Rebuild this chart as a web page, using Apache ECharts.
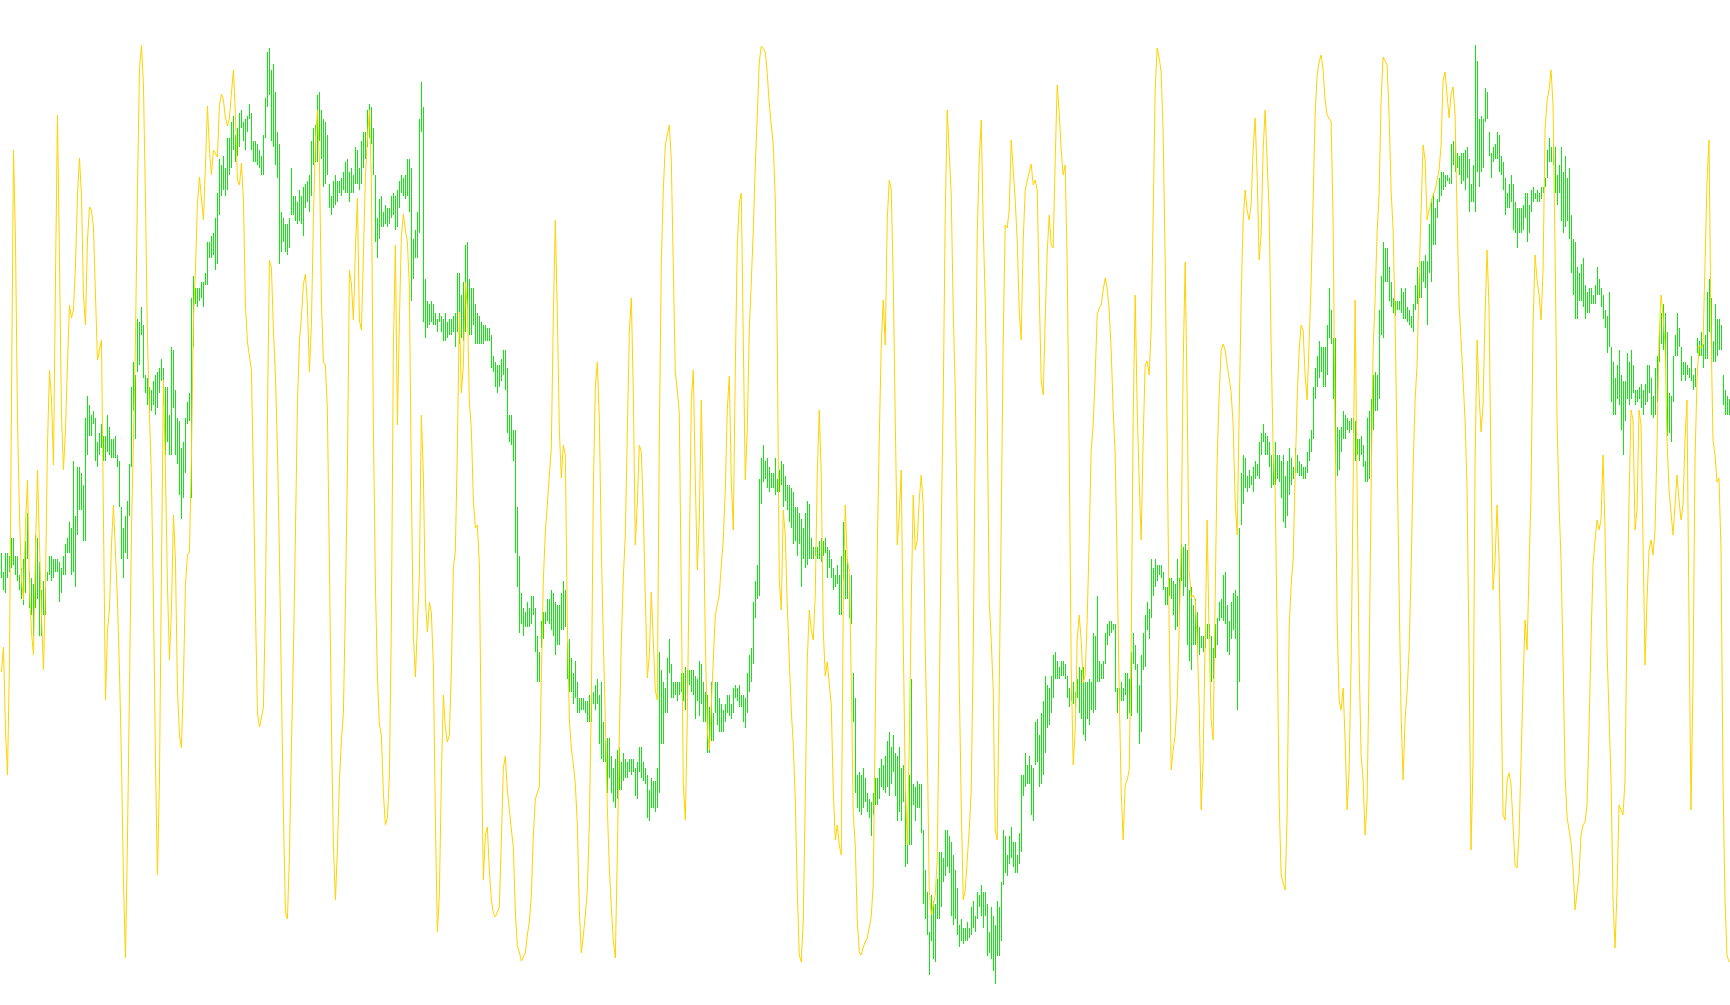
<!DOCTYPE html>
<html>
<head>
<meta charset="utf-8">
<script src="https://cdn.jsdelivr.net/npm/echarts/dist/echarts.min.js"></script>
<style>
html,body{margin:0;padding:0;background:#ffffff;overflow:hidden}
#chart{width:1730px;height:1005px}
</style>
</head>
<body>
<div id="chart"></div>
<script>
// Bar highs (price points), one per bar
const highs = [
447,428,447,447,444,462,462,444,444,425,
432,441,459,487,428,422,416,465,462,438,
410,419,413,428,444,444,441,441,441,438,
432,444,456,462,478,472,539,484,533,533,
527,515,582,604,595,585,589,582,558,567,
576,564,564,585,573,561,561,564,545,539,
493,472,484,499,536,613,638,625,681,678,
693,675,625,622,613,610,619,625,628,632,
641,632,613,613,585,653,650,610,582,579,
552,558,582,598,607,702,724,712,712,712,
718,718,727,758,758,764,767,782,807,841,
835,844,832,862,862,878,884,865,872,887,
890,878,881,884,896,887,859,859,856,850,
844,865,902,948,952,930,936,908,868,856,
788,782,776,776,782,832,804,804,798,810,
804,813,816,819,825,859,872,875,905,908,
890,881,878,865,816,804,819,825,819,819,
822,828,838,841,828,832,825,853,850,832,
859,868,868,890,896,893,872,825,782,801,
804,788,795,792,792,804,807,804,810,819,
825,822,825,841,841,832,761,770,788,881,
918,893,721,699,696,699,696,687,681,687,
684,681,687,678,681,681,684,687,727,727,
705,718,755,758,721,712,712,696,687,684,
678,675,675,672,672,665,644,638,635,635,
641,650,650,632,585,585,570,570,493,444,
407,392,388,398,392,404,404,392,364,348,
379,388,388,401,401,410,407,398,395,395,
407,419,410,358,361,342,327,339,318,302,
302,302,299,299,305,305,308,315,321,305,
318,278,259,262,262,244,232,241,250,253,
238,247,241,238,241,241,241,232,238,253,
253,238,232,225,210,222,219,219,232,348,
330,318,312,342,361,336,318,318,318,318,
327,327,333,330,330,330,330,324,321,339,
336,318,308,305,293,318,287,318,318,302,
296,290,296,305,305,296,312,315,312,315,
305,305,302,327,345,352,398,419,435,521,
542,555,539,542,533,527,527,542,521,530,
539,536,524,515,515,512,508,493,493,487,
481,472,487,499,496,462,453,453,453,459,
462,459,462,453,450,441,432,425,435,425,
444,478,450,441,422,425,327,302,225,228,
225,232,222,207,201,198,207,222,222,232,
241,235,244,259,268,253,265,247,244,253,
232,235,210,170,225,321,216,213,219,216,
216,170,130,108,68,105,99,96,121,148,
148,142,170,170,164,158,145,130,112,75,
81,72,72,78,72,93,99,84,108,105,
115,108,108,96,68,93,84,75,99,93,
118,170,164,145,164,173,158,158,145,167,
225,225,247,235,244,235,232,278,281,265,
287,299,324,315,312,324,345,348,339,333,
339,339,336,324,312,318,318,308,321,333,
330,333,318,318,321,318,367,364,404,339,
336,339,367,376,379,379,376,376,312,312,
318,312,327,327,321,348,367,355,336,315,
345,367,385,398,391,441,432,441,435,435,
435,428,413,413,422,422,419,416,441,422,
456,453,456,450,410,413,395,401,388,373,
364,364,373,376,376,364,352,376,382,398,
401,425,428,395,379,398,407,410,404,472,
527,545,542,524,530,524,533,539,536,558,
567,576,567,564,558,545,545,558,545,545,
539,545,524,539,552,542,533,552,545,539,
536,533,533,548,561,570,613,632,644,659,
653,653,653,675,712,690,662,662,573,570,
573,589,585,582,579,582,582,579,561,561,
564,555,539,582,589,601,625,628,625,690,
724,758,752,752,733,718,702,699,699,699,
712,708,712,693,690,684,696,715,733,727,
739,739,745,739,776,801,807,792,801,822,
828,828,825,825,822,856,859,859,847,844,
847,847,850,853,841,816,835,955,939,881,
884,881,912,908,868,847,853,856,868,865,
844,838,822,807,816,825,816,798,792,792,
792,795,807,807,795,810,813,807,810,807,
813,813,822,850,862,853,856,853,825,835,
853,828,844,822,832,785,761,758,733,727,
736,742,715,708,712,712,705,715,733,721,
712,705,690,684,708,653,638,622,635,650,
625,619,619,647,638,650,635,610,610,613,
616,610,616,635,635,622,604,632,644,675,
687,696,687,668,607,604,644,665,687,672,
653,638,638,635,632,644,625,632,662,659,
668,656,665,708,721,702,659,696,681,681,
675,625,610,604,601
];

// Bar lows (price points)
const lows = [
422,410,407,422,428,432,435,425,419,410,
401,395,407,441,392,385,364,392,401,364,
364,385,385,419,425,419,422,428,428,398,
407,425,425,447,447,425,428,413,465,490,
490,459,459,545,564,564,576,539,533,545,
552,539,539,548,545,542,542,542,533,493,
441,422,447,441,484,533,589,561,628,635,
665,622,607,595,589,589,595,585,592,607,
619,595,545,558,545,545,592,545,536,505,
481,502,527,576,579,502,653,696,693,699,
702,693,715,715,742,742,745,730,736,785,
804,810,804,810,825,832,850,838,844,853,
872,859,850,868,881,850,838,838,835,832,
825,825,862,893,905,859,853,835,822,736,
748,758,748,745,752,785,785,779,776,779,
776,764,792,798,788,804,835,838,838,859,
841,813,816,825,792,785,792,795,798,807,
804,810,807,807,798,807,807,816,816,810,
816,832,841,853,862,856,825,758,742,761,
773,773,776,773,776,782,785,770,773,792,
807,804,801,804,788,699,721,742,742,767,
868,678,662,672,675,678,675,675,668,678,
668,659,659,662,665,665,668,653,668,656,
662,659,668,690,665,665,675,656,656,656,
656,656,659,659,659,632,628,613,607,613,
619,625,610,567,558,555,539,447,413,367,
376,364,373,373,373,376,385,348,318,318,
352,361,376,379,376,370,364,345,355,355,
370,370,373,321,308,308,296,302,287,287,
290,290,287,278,278,278,296,290,296,256,
241,238,238,207,222,207,198,192,201,210,
210,219,222,222,228,225,228,204,201,228,
222,219,216,182,179,192,192,188,192,207,
256,256,287,287,327,302,302,305,299,305,
308,299,290,305,315,308,305,281,299,284,
296,278,278,247,247,259,259,287,275,268,
268,268,278,287,284,281,287,302,299,293,
293,278,272,287,308,318,336,382,401,404,
496,518,521,512,508,512,512,505,508,508,
515,493,499,490,478,472,456,459,444,456,
413,441,432,435,441,441,441,444,441,441,
438,444,447,422,432,422,410,413,416,385,
385,419,401,401,382,376,278,207,192,188,
185,192,198,188,182,164,185,195,195,201,
213,210,207,213,204,216,228,204,179,188,
179,198,133,136,155,155,195,179,192,192,
167,96,81,65,25,59,41,38,81,81,
93,118,124,133,127,84,75,81,65,53,
59,56,59,59,62,65,72,68,81,93,
84,72,84,44,47,41,29,16,44,44,
59,115,127,124,136,142,133,127,127,136,
148,204,213,216,216,185,179,235,238,213,
216,225,247,272,275,287,302,321,321,321,
324,324,321,302,293,299,296,293,302,287,
281,265,259,281,275,290,287,290,318,318,
321,321,336,355,364,367,370,308,287,296,
299,299,305,281,287,284,336,330,287,256,
268,330,333,370,361,382,404,413,419,425,
422,410,395,395,404,401,385,370,373,382,
419,404,413,355,339,330,355,355,348,345,
352,348,352,361,361,318,321,342,355,379,
382,379,376,348,345,361,370,361,290,318,
475,496,512,508,512,515,508,521,524,521,
545,558,545,545,533,512,515,515,521,518,
502,478,472,484,505,515,521,527,527,524,
524,521,521,527,539,548,561,601,613,622,
628,613,613,625,662,656,601,536,524,530,
548,561,561,570,567,570,567,539,545,539,
545,533,518,518,521,545,570,589,589,601,
665,662,718,718,699,693,687,684,690,690,
687,681,681,678,675,672,668,690,696,702,
702,718,712,675,727,718,755,755,782,798,
804,810,813,819,816,816,835,828,832,825,
816,819,810,822,788,798,798,788,828,813,
828,832,878,881,844,822,838,841,841,828,
825,810,785,792,792,798,770,767,752,767,
767,770,782,758,767,788,798,801,798,798,
801,807,813,822,838,838,835,807,795,807,
779,767,773,779,761,727,705,681,681,699,
699,693,681,687,687,696,696,696,705,705,
693,681,672,647,653,598,585,585,601,595,
570,545,579,601,595,601,607,595,598,601,
592,585,595,598,607,585,582,585,598,638,
656,650,632,564,567,558,598,644,644,653,
619,625,619,625,622,619,610,613,647,644,
644,632,641,641,668,641,638,638,644,650,
650,595,585,585,585
];

// Oscillator values, one per bar
const oscillator = [
328,353,270,225,340,600,850,760,580,485,
420,400,475,520,410,368,345,450,530,455,
385,330,420,555,630,600,535,720,885,740,
585,530,570,635,695,682,690,735,805,842,
805,705,675,760,793,790,772,705,640,650,
660,480,300,370,390,455,495,495,400,330,
240,120,42,160,310,470,560,660,810,930,
955,915,800,660,585,520,400,240,125,220,
430,620,530,415,340,390,485,440,310,265,
252,320,415,445,448,545,680,730,796,823,
802,780,835,894,850,825,850,850,843,895,
906,900,882,874,882,907,930,885,820,815,
837,800,695,658,657,630,522,393,288,273,
282,293,395,585,740,732,670,625,553,447,
315,187,88,81,143,252,347,465,595,659,
683,716,726,695,628,676,781,860,890,841,
700,638,635,589,439,276,155,100,150,218,
259,287,395,530,730,716,680,750,802,680,
670,744,823,862,890,820,573,416,324,275,
265,207,175,182,224,378,653,755,575,678,
764,786,770,758,713,512,364,323,325,425,
585,525,400,368,398,387,335,182,68,105,
222,305,272,258,265,330,432,450,552,688,
607,635,718,693,598,570,500,472,475,435,
252,120,165,173,130,100,87,83,84,93,
160,232,244,210,190,188,152,88,54,48,
39,39,47,65,78,105,165,201,200,213,
320,420,468,496,497,553,684,780,687,570,
522,555,545,376,281,252,236,215,176,90,
47,65,85,111,176,297,511,612,638,582,
453,360,280,192,133,93,59,42,145,267,
358,422,466,567,668,702,607,455,497,555,
548,490,402,322,344,408,410,310,300,560,
736,810,855,865,875,840,733,627,610,587,
404,216,180,280,440,600,630,520,430,480,
600,500,360,270,250,295,340,385,395,405,
435,460,510,590,624,520,470,630,755,796,
807,660,520,570,670,718,770,835,885,938,
954,956,948,926,896,875,855,800,660,420,
390,490,465,395,340,290,255,200,110,45,
38,80,200,340,390,370,360,405,525,590,
525,370,324,338,340,295,210,160,175,155,
145,395,495,440,430,320,185,155,80,48,
45,53,58,62,72,84,115,280,450,560,
655,700,655,780,820,810,720,580,455,485,
530,360,220,155,255,395,505,450,460,500,
525,495,350,260,110,85,95,105,140,295,
470,600,785,890,890,805,690,610,475,320,
195,100,110,140,170,210,350,555,765,840,
880,775,700,590,400,360,310,170,160,310,
475,660,775,772,790,860,860,800,760,690,
660,760,810,810,828,836,815,820,810,710,
620,605,680,747,785,755,752,840,915,888,
850,825,835,735,550,335,235,270,360,385,
360,317,325,380,460,550,575,625,685,692,
695,710,722,712,690,650,590,545,435,310,
210,160,215,220,230,355,580,705,592,520,
460,560,635,639,625,670,785,910,952,942,
928,867,740,560,375,230,250,265,300,370,
455,635,738,600,430,402,405,400,360,295,
190,240,360,480,360,280,260,400,540,605,
650,656,650,635,622,607,575,500,465,585,
700,780,810,790,780,795,850,882,825,740,
765,850,890,840,790,655,550,510,370,200,
125,117,110,185,370,415,440,525,600,650,
675,670,625,600,658,717,800,885,925,938,
945,930,900,885,884,878,780,560,380,300,
290,312,260,190,230,340,510,700,510,340,
245,220,165,200,330,510,650,700,768,805,
900,943,945,935,885,810,770,680,550,410,
285,220,282,308,350,430,530,600,635,720,
790,855,840,780,790,792,805,810,820,830,
855,920,928,905,882,906,913,885,785,695,
660,620,580,510,340,150,240,540,660,605,
568,595,685,750,690,525,410,440,495,440,
310,185,180,220,227,215,175,135,132,165,
240,315,380,350,350,510,675,745,720,705,
680,730,870,900,910,930,895,750,580,495,
440,340,225,183,170,157,132,90,90,125,
165,175,178,195,270,360,435,460,480,470,
480,545,470,350,285,220,100,52,110,195,
190,185,220,380,500,590,580,470,490,590,
575,460,335,400,450,460,445,470,555,660,
705,685,655,560,510,510,465,495,525,500,
480,495,560,600,380,190,320,540,620,655,
652,655,735,818,860,670,560,545,518,522,
450,220,100,45,38
];

const barLabels = highs.map(function (_, i) { return String(i + 1); });
const rangeData = highs.map(function (h, i) { return [i, h, lows[i]]; });

const chart = echarts.init(document.getElementById('chart'), null, { renderer: 'canvas', devicePixelRatio: 1 });
chart.setOption({
  animation: false,
  backgroundColor: '#ffffff',
  grid: { left: 0.5, top: 0, width: 1730, height: 1000, containLabel: false },
  xAxis: { type: 'category', data: barLabels, boundaryGap: true, show: false },
  yAxis: { type: 'value', min: 0, max: 1000, show: false },
  series: [
    {
      name: 'price',
      type: 'custom',
      silent: true,
      data: rangeData,
      encode: { x: 0, y: [1, 2] },
      renderItem: function (params, api) {
        const top = api.coord([api.value(0), api.value(1)]);
        const bottom = api.coord([api.value(0), api.value(2)]);
        const y0 = Math.round(top[1]);
        const y1 = Math.round(bottom[1]);
        // one solid pixel column per bar (high-low range)
        return {
          type: 'rect',
          shape: { x: Math.floor(top[0]), y: y0, width: 1, height: Math.max(1, y1 - y0) },
          style: { fill: '#12e612' }
        };
      },
      z: 1
    },
    {
      name: 'oscillator',
      type: 'line',
      silent: true,
      data: oscillator,
      symbol: 'none',
      smooth: false,
      lineStyle: { color: '#ffd200', width: 1 },
      z: 2
    }
  ]
});
</script>
</body>
</html>
